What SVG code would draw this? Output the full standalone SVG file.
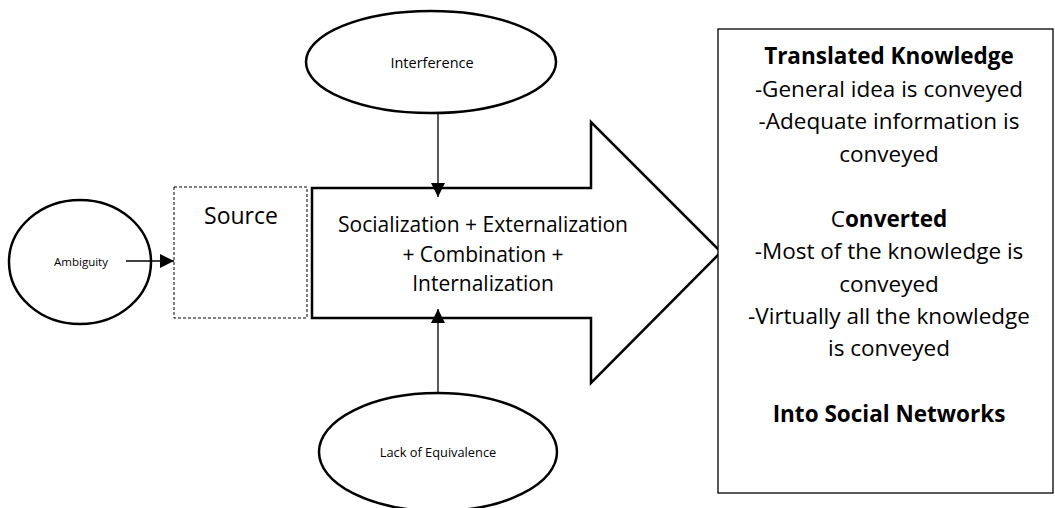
<svg xmlns="http://www.w3.org/2000/svg" width="1055" height="508" viewBox="0 0 1055 508">
  <defs>
    <style>
      .shape { fill: #ffffff; stroke: #000000; stroke-width: 2.5; }
      .lbl { font-family: "Open Sans", "Liberation Sans", sans-serif; fill: #000; text-anchor: middle; }
      .mid { font-family: "Open Sans", "Liberation Sans", sans-serif; font-size: 21px; fill: #000; text-anchor: middle; }
      .big { font-family: "Open Sans", "Liberation Sans", sans-serif; font-size: 22.5px; fill: #000; text-anchor: middle; }
      .b { font-weight: bold; }
      .link { stroke: #000; stroke-width: 1.3; fill: none; }
    </style>
    <marker id="tri" viewBox="0 0 10 10" refX="10" refY="5" markerWidth="15" markerHeight="14" markerUnits="userSpaceOnUse" orient="auto">
      <path d="M0,0 L10,5 L0,10 Z" fill="#000"/>
    </marker>
  </defs>
  <rect width="1055" height="508" fill="#ffffff"/>

  <!-- central process arrow -->
  <g id="process">
    <path class="shape" d="M312,188 L591,188 L591,122 L721,252 L591,383 L591,318 L312,318 Z" stroke-width="3"/>
    <text class="mid" x="483" y="232">Socialization + Externalization</text>
    <text class="mid" x="483" y="262">+ Combination +</text>
    <text class="mid" x="483" y="291">Internalization</text>
  </g>

  <g id="source">
    <rect x="174" y="187" width="133" height="131" fill="#fff" stroke="#000" stroke-width="1" stroke-dasharray="3,2"/>
    <text class="lbl" x="241" y="224" font-size="23">Source</text>
  </g>

  <g id="ambiguity">
    <ellipse class="shape" cx="80" cy="262" rx="71" ry="62"/>
    <text class="lbl" x="81" y="266" font-size="11.5">Ambiguity</text>
  </g>

  <g id="interference">
    <ellipse class="shape" cx="431" cy="62" rx="125" ry="51"/>
    <text class="lbl" x="432" y="68" font-size="14.5">Interference</text>
  </g>

  <g id="lack-of-equivalence">
    <ellipse class="shape" cx="438" cy="452" rx="119" ry="59"/>
    <text class="lbl" x="438" y="457" font-size="12.8">Lack of Equivalence</text>
  </g>

  <g id="outcome">
    <rect x="718" y="29" width="335" height="464" fill="#fff" stroke="#000" stroke-width="1.3"/>
    <text class="big b" x="889" y="64">Translated Knowledge</text>
    <text class="big" x="889" y="97">-General idea is conveyed</text>
    <text class="big" x="889" y="129">-Adequate information is</text>
    <text class="big" x="889" y="162">conveyed</text>
    <text class="big" x="889" y="227">C<tspan class="b">onverted</tspan></text>
    <text class="big" x="889" y="259">-Most of the knowledge is</text>
    <text class="big" x="889" y="292">conveyed</text>
    <text class="big" x="889" y="324">-Virtually all the knowledge</text>
    <text class="big" x="889" y="356">is conveyed</text>
    <text class="big b" x="889" y="422">Into Social Networks</text>
  </g>

  <g id="connectors">
    <line class="link" x1="126" y1="261" x2="174" y2="261" marker-end="url(#tri)"/>
    <line class="link" x1="438" y1="113" x2="438" y2="197" marker-end="url(#tri)"/>
    <line class="link" x1="438" y1="393" x2="438" y2="309" marker-end="url(#tri)"/>
  </g>
</svg>
